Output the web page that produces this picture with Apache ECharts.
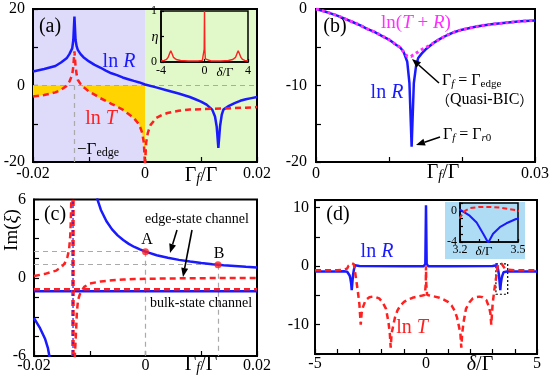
<!DOCTYPE html>
<html>
<head>
<meta charset="utf-8">
<script src="https://cdn.jsdelivr.net/npm/echarts@6/dist/echarts.min.js"></script>
<style>
html, body { margin: 0; padding: 0; background: #fff; }
#chart { width: 556px; height: 386px; }
</style>
</head>
<body>
<div id="chart"></div>
<script>
// ---- (a) ln R and ln T against Gamma_f/Gamma
var aRx = [-0.02,-0.018,-0.016,-0.015,-0.014,-0.0135,-0.013,-0.0128,-0.0126,-0.0124,-0.0122,-0.012,-0.0115,-0.011,-0.01,-0.009,-0.008,-0.007,-0.006,-0.005,-0.004,-0.003,-0.002,-0.001,0,0.002,0.004,0.006,0.008,0.009,0.01,0.011,0.012,0.0125,0.0128,0.0131,0.0134,0.0137,0.014,0.015,0.016,0.017,0.018,0.019,0.02];
var aRy = [3.65,4.3,5.1,6.0,7.1,8.2,9.7,11.9,18,11.9,10.2,9.3,8.2,7.4,6.3,5.4,4.7,3.9,3.2,2.7,2.1,1.65,1.2,0.8,0.26,-0.5,-1.3,-2.1,-3.0,-3.6,-4.2,-5.0,-6.3,-8.1,-10.7,-16.3,-10.7,-7.7,-6.3,-5.3,-4.6,-4.0,-3.6,-3.3,-3.0];
var aTx = [-0.02,-0.018,-0.016,-0.015,-0.014,-0.0135,-0.013,-0.0128,-0.0126,-0.0124,-0.0122,-0.012,-0.0115,-0.011,-0.01,-0.009,-0.008,-0.007,-0.006,-0.005,-0.004,-0.003,-0.002,-0.001,-0.0005,-0.0002,0,0.0002,0.0005,0.001,0.002,0.003,0.004,0.006,0.008,0.01,0.012,0.014,0.016,0.018,0.02];
var aTy = [-2.9,-2.5,-1.8,-1.1,-0.1,1.0,2.8,5.0,8.9,5.0,2.8,1.5,0.35,-0.4,-1.6,-2.4,-3.3,-4.0,-4.8,-5.5,-6.3,-7.4,-8.5,-10.3,-12.4,-15,-21,-15,-12.4,-10.3,-8.5,-7.7,-7.2,-6.6,-6.3,-6.2,-6.1,-6.0,-5.9,-5.8,-5.65];
var gammaEdge = 0.0126;
// inset of (a): eta against delta/Gamma
var etaX = [-4,-3.7,-3.5,-3.35,-3.2,-3.1,-3.0,-2.85,-2.6,-2.2,-1.5,-0.6,-0.2,-0.08,-0.03,0,0.03,0.08,0.2,0.6,1.5,2.2,2.6,2.85,3.0,3.1,3.2,3.35,3.5,3.7,4];
var etaY = [0.02,0.03,0.05,0.09,0.17,0.22,0.17,0.09,0.05,0.03,0.02,0.02,0.03,0.06,0.25,1.0,0.25,0.06,0.03,0.02,0.02,0.03,0.05,0.09,0.17,0.22,0.17,0.09,0.05,0.03,0.02];

// ---- (b) ln R and ln(T+R)
var bRx = [0,0.001,0.002,0.003,0.004,0.005,0.006,0.007,0.008,0.009,0.01,0.011,0.0115,0.012,0.0125,0.0128,0.0131,0.0134,0.0137,0.014,0.0145,0.015,0.016,0.017,0.018,0.019,0.02,0.022,0.024,0.026,0.028,0.03];
var bRy = [0,-0.26,-0.57,-0.9,-1.3,-1.7,-2.1,-2.6,-3.0,-3.5,-4.0,-4.7,-5.0,-5.6,-6.9,-9.7,-18,-9.7,-7.5,-6.4,-5.8,-5.3,-4.5,-3.9,-3.4,-3.0,-2.7,-2.3,-2.0,-1.8,-1.6,-1.5];
var bTRx = [0,0.001,0.002,0.003,0.004,0.005,0.006,0.007,0.008,0.009,0.01,0.011,0.0115,0.012,0.0125,0.013,0.0135,0.014,0.0145,0.015,0.016,0.017,0.018,0.019,0.02,0.022,0.024,0.026,0.028,0.03];
var bTRy = [0,-0.26,-0.57,-0.9,-1.3,-1.7,-2.1,-2.6,-3.0,-3.5,-4.0,-4.7,-5.0,-5.6,-6.2,-6.2,-5.9,-5.6,-5.3,-5.05,-4.5,-3.9,-3.4,-3.0,-2.7,-2.3,-2.0,-1.8,-1.6,-1.5];

// ---- (c) Im(xi)
var cEdgeX = [-0.0087,-0.008,-0.007,-0.006,-0.005,-0.004,-0.003,-0.002,-0.001,0,0.002,0.004,0.006,0.008,0.01,0.012,0.014,0.016,0.018,0.02];
var cEdgeY = [6.1,5.2,4.33,3.71,3.25,2.89,2.6,2.36,2.17,2.0,1.73,1.53,1.37,1.24,1.13,1.04,0.96,0.9,0.84,0.79];
var cEdgeLx = [-0.02,-0.019,-0.018,-0.0175,-0.0172];
var cEdgeLy = [-3.1,-3.8,-4.7,-5.4,-6.1];
var cRedLx = [-0.02,-0.018,-0.016,-0.015,-0.0145,-0.014,-0.0137,-0.0135,-0.0134,-0.0133];
var cRedLy = [0.13,0.3,0.55,0.85,1.1,1.6,2.2,3.2,4.3,6.2];
var cRedRx = [-0.0127,-0.0125,-0.0123,-0.0121,-0.0118,-0.0115,-0.011,-0.01,-0.008,-0.006,-0.004,-0.002,0,0.005,0.01,0.02];
var cRedRy = [-6.2,-4.5,-2.6,-1.7,-1.3,-1.05,-0.7,-0.45,-0.28,-0.2,-0.14,-0.1,-0.08,-0.05,-0.03,-0.02];
var cBulkX = [-0.02,0.02];
var cBulkBlue = [-1.04,-1.04];
var cBulkRed = [-0.88,-0.88];
var cPoleX = -0.013;
var cPtX = [0, 0.013];
var cPtY = [2.0, 1.0];

// ---- (d) ln R, ln T against delta/Gamma
var dRx = [-5,-4,-3.7,-3.55,-3.49,-3.44,-3.406,-3.371,-3.346,-3.32,-3.286,-3.25,-3.2,-3.0,-1,-0.1,-0.03,0,0.03,0.1,1,3.0,3.2,3.25,3.286,3.32,3.346,3.371,3.406,3.44,3.49,3.55,3.7,4,5];
var dRy = [-0.9,-0.9,-0.88,-0.95,-1.05,-1.6,-2.1,-2.95,-4.1,-2.95,-1.5,-0.63,0.15,0.03,0,0,0.4,10.4,0.4,0,0,0.03,0.15,-0.63,-1.5,-2.95,-4.1,-2.95,-2.1,-1.6,-1.05,-0.95,-0.88,-0.9,-0.9];
var dTx = [-5,-4,-3.7,-3.55,-3.49,-3.457,-3.41,-3.35,-3.3,-3.25,-3.226,-3.2,-3.15,-3.08,-3.0,-2.94,-2.9,-2.84,-2.72,-2.55,-2.41,-2.25,-2.11,-1.95,-1.8,-1.69,-1.63,-1.59,-1.55,-1.48,-1.4,-1.29,-1.15,-0.99,-0.8,-0.61,-0.4,-0.16,-0.05,-0.01,0,
           0.01,0.05,0.16,0.4,0.61,0.8,0.99,1.15,1.29,1.4,1.48,1.55,1.59,1.63,1.69,1.8,1.95,2.11,2.25,2.41,2.55,2.72,2.84,2.9,2.94,3.0,3.08,3.15,3.2,3.226,3.25,3.3,3.35,3.41,3.457,3.49,3.55,3.7,4,5];
var dTy = [-0.7,-0.7,-0.6,-0.4,0.08,0.2,0.4,0.5,0.5,0.34,0,-0.85,-2.2,-4.0,-6.5,-10.0,-8.0,-7.0,-5.8,-5.3,-5.2,-5.3,-5.5,-6.2,-7.3,-9.6,-11.5,-13.9,-11.5,-10.2,-8.8,-7.6,-6.7,-6.1,-5.7,-5.4,-5.2,-5.0,-4.9,-3,0,
           -3,-4.9,-5.0,-5.2,-5.4,-5.7,-6.1,-6.7,-7.6,-8.8,-10.2,-11.5,-13.9,-11.5,-9.6,-7.3,-6.2,-5.5,-5.3,-5.2,-5.3,-5.8,-7.0,-8.0,-10.0,-6.5,-4.0,-2.2,-0.85,0,0.34,0.5,0.5,0.4,0.2,0.08,-0.4,-0.6,-0.7,-0.7];
var dBoxX = [3.15, 3.68];
var dBoxY = [0.4, -4.8];

// tick labels that are printed
var aXLabels = [-0.02, 0, 0.02], aYLabels = [-20, 0, 20];
var etaXLabels = [-4, 0, 4], etaYLabels = [0, 1];
var bXLabels = [0, 0.03], bYLabels = [-20, -10, 0];
var cXLabels = [-0.02, 0, 0.02], cYLabels = [-6, 0, 6];
var dXLabels = [-5, 0, 5], dYLabels = [-10, 0, 10];
var dInXLabels = [3.2, 3.5], dInYLabels = [-4, 0];

var FONT = 'Liberation Serif';
var BLUE = '#1a1aff', RED = '#ff2020', PINK = '#ff30ff';
var PURPLE = '#dedaf9', GREEN = '#e1f8c8', GOLD = '#ffd400', SKY = '#aedcf4';

function zip(xs, ys) {
  return xs.map(function (x, i) { return [x, ys[i]]; });
}

function fmt(shown) {
  return function (v) {
    for (var k = 0; k < shown.length; k++) {
      if (Math.abs(v - shown[k]) < 1e-7) return String(shown[k]);
    }
    return '';
  };
}

function xAx(gi, min, max, interval, shown, fs, margin, lw) {
  return {
    type: 'value', gridIndex: gi, min: min, max: max, interval: interval, position: 'bottom',
    axisLine: { show: true, onZero: false, lineStyle: { color: '#000', width: lw } },
    axisTick: { show: true, inside: true, length: lw > 1.6 ? 5 : 3, lineStyle: { color: '#000', width: 1.2 } },
    splitLine: { show: false },
    axisLabel: { margin: margin, fontFamily: FONT, fontSize: fs, color: '#000', formatter: fmt(shown), showMinLabel: true, showMaxLabel: true }
  };
}

function yAx(gi, min, max, interval, shown, fs, margin, lw) {
  var a = xAx(gi, min, max, interval, shown, fs, margin, lw);
  a.position = 'left';
  return a;
}

function line(gi, data, color, width, type, z) {
  return {
    type: 'line', xAxisIndex: gi, yAxisIndex: gi, data: data, symbol: 'none', z: z || 5,
    lineStyle: { color: color, width: width, type: type || 'solid' }, clip: true, silent: true
  };
}

function gray(pairs) {
  return pairs.map(function (p) { return [{ coord: p[0] }, { coord: p[1] }]; });
}

// text made of pieces: {n|..} normal, {i|..} italic, {s|..} subscript, {si|..} italic subscript, {c|..} CJK
var measureCtx = document.createElement('canvas').getContext('2d');
function pieceFont(kind, size) {
  var small = Math.round(size * 0.68);
  if (kind === 'n') return size + 'px "' + FONT + '"';
  if (kind === 'i') return 'italic ' + size + 'px "' + FONT + '"';
  if (kind === 's') return small + 'px "' + FONT + '"';
  if (kind === 'si') return 'italic ' + small + 'px "' + FONT + '"';
  return (size - 2) + 'px "Noto Sans CJK SC"';
}

function txt(x, y, text, size, color, opts) {
  opts = opts || {};
  var parts = [], re = /\{(\w+)\|([^}]*)\}/g, m;
  while ((m = re.exec(text))) parts.push({ kind: m[1], t: m[2] });
  if (opts.rot) {
    return [{
      type: 'text', x: x, y: y, z: 100, rotation: opts.rot,
      style: {
        text: text, fill: color, align: 'center', verticalAlign: 'middle',
        rich: {
          n: { fontFamily: FONT, fontSize: size, fill: color },
          i: { fontFamily: FONT, fontSize: size, fontStyle: 'italic', fill: color }
        }
      }
    }];
  }
  var total = 0;
  parts.forEach(function (p) {
    p.font = pieceFont(p.kind, size);
    measureCtx.font = p.font;
    p.w = measureCtx.measureText(p.t).width;
    total += p.w;
  });
  var cx = opts.align === 'left' ? x : x - total / 2;
  return parts.map(function (p) {
    var sub = p.kind === 's' || p.kind === 'si';
    var el = {
      type: 'text', x: cx, y: y + (sub ? size * 0.17 : 0), z: 100,
      style: { text: p.t, font: p.font, fill: color, align: 'left', verticalAlign: 'middle' }
    };
    cx += p.w;
    return el;
  });
}

function arrow(x1, y1, x2, y2) {
  var a = Math.atan2(y2 - y1, x2 - x1), L = 9, W = 3.5;
  var bx = x2 - L * Math.cos(a), by = y2 - L * Math.sin(a);
  var px = -Math.sin(a) * W, py = Math.cos(a) * W;
  return [
    { type: 'line', z: 100, shape: { x1: x1, y1: y1, x2: bx, y2: by }, style: { stroke: '#000', lineWidth: 1.6 } },
    { type: 'polygon', z: 100, shape: { points: [[x2, y2], [bx + px, by + py], [bx - px, by - py]] }, style: { fill: '#000' } }
  ];
}

var aFill = zip(aTx, aTy).filter(function (p) { return p[0] <= 0; })
  .map(function (p) { return [p[0], Math.min(p[1], 0)]; });

var gridBase = { show: true, borderColor: '#000', borderWidth: 2 };
function grid(l, t, w, h, extra) {
  return Object.assign({ left: l, top: t, width: w, height: h }, gridBase, extra || {});
}

var labels = [].concat(
  // (a)
  txt(50, 27, '{n|(a)}', 20, '#000'),
  txt(119, 62, '{n|ln }{i|R}', 20, BLUE),
  txt(101, 119, '{n|ln }{i|T}', 20, RED),
  txt(77, 150, '{n|−Γ}{s|edge}', 17, '#000', { align: 'left' }),
  txt(201, 176, '{n|Γ}{si|f}{n|/Γ}', 20, '#000'),
  txt(155, 37, '{i|η}', 14, '#000'),
  txt(225, 73, '{i|δ}{n|/Γ}', 13, '#000'),
  // (b)
  txt(335, 27, '{n|(b)}', 20, '#000'),
  txt(416, 23, '{n|ln(}{i|T}{n| + }{i|R}{n|)}', 19, PINK),
  txt(387, 93, '{n|ln }{i|R}', 20, BLUE),
  txt(442, 81, '{n|Γ}{si|f}{n| = Γ}{s|edge}', 16, '#000', { align: 'left' }),
  txt(436, 100, '{c|（}{n|Quasi-BIC}{c|）}', 16, '#000', { align: 'left' }),
  txt(443, 135, '{n|Γ}{si|f}{n| = Γ}{si|r}{s|0}', 16, '#000', { align: 'left' }),
  txt(443, 173, '{n|Γ}{si|f}{n|/Γ}', 20, '#000'),
  // (c)
  txt(55, 215, '{n|(c)}', 20, '#000'),
  txt(12, 230, '{n|Im(}{i|ξ}{n|)}', 19, '#000', { rot: Math.PI / 2 }),
  txt(147, 240, '{n|A}', 16, '#000'),
  txt(219, 254, '{n|B}', 16, '#000'),
  txt(197, 219, '{n|edge-state channel}', 14, '#000'),
  txt(201, 303, '{n|bulk-state channel}', 14, '#000'),
  txt(201, 365, '{n|Γ}{si|f}{n|/Γ}', 20, '#000'),
  // (d)
  txt(338, 215, '{n|(d)}', 20, '#000'),
  txt(377, 252, '{n|ln }{i|R}', 20, BLUE),
  txt(412, 328, '{n|ln }{i|T}', 20, RED),
  txt(480, 365, '{i|δ}{n|/Γ}', 20, '#000'),
  txt(484, 252, '{i|δ}{n|/Γ}', 13, '#000'),
  arrow(439, 83, 412, 59),
  arrow(440, 137, 416, 145),
  arrow(177, 230, 170, 253),
  arrow(192, 230, 183, 277)
);

var chart = echarts.init(document.getElementById('chart'));
chart.setOption({
  animation: false,
  backgroundColor: '#fff',
  grid: [
    grid(33, 9, 224, 153, {
      backgroundColor: { type: 'linear', x: 0, y: 0, x2: 1, y2: 0,
        colorStops: [{ offset: 0, color: PURPLE }, { offset: 0.5, color: PURPLE }, { offset: 0.5, color: GREEN }, { offset: 1, color: GREEN }] }
    }),
    grid(161, 11, 87, 51, { backgroundColor: GREEN, borderWidth: 1.5 }),
    grid(316, 9, 219, 153),
    grid(34, 199.5, 223, 156.5),
    grid(315, 200, 222, 154),
    grid(460, 203, 58, 39, { borderWidth: 1.5 })
  ],
  xAxis: [
    xAx(0, -0.02, 0.02, 0.01, aXLabels, 16, 4, 2),
    xAx(1, -4, 4, 4, etaXLabels, 12, 3, 1.5),
    xAx(2, 0, 0.03, 0.01, bXLabels, 16, 4, 2),
    xAx(3, -0.02, 0.02, 0.01, cXLabels, 16, 2, 2),
    xAx(4, -5, 5, 1, dXLabels, 16, 2, 2),
    xAx(5, 3.2, 3.5, 0.1, dInXLabels, 12, 2, 1.5)
  ],
  yAxis: [
    yAx(0, -20, 20, 10, aYLabels, 16, 8, 2),
    yAx(1, 0, 1, 0.5, etaYLabels, 12, 4, 1.5),
    yAx(2, -20, 0, 5, bYLabels, 16, 9, 2),
    yAx(3, -6, 6, 1.5, cYLabels, 16, 8, 2),
    yAx(4, -15, 11.3, 5, dYLabels, 16, 6, 2),
    yAx(5, -4, 1, 1, dInYLabels, 12, 3, 1.5)
  ],
  series: [
    // (a)
    {
      type: 'line', xAxisIndex: 0, yAxisIndex: 0, data: aFill, symbol: 'none', z: 2, silent: true,
      lineStyle: { width: 0 }, areaStyle: { color: GOLD, opacity: 1 }
    },
    {
      type: 'line', xAxisIndex: 0, yAxisIndex: 0, data: [], symbol: 'none', z: 3, silent: true,
      markLine: {
        silent: true, symbol: 'none', label: { show: false },
        lineStyle: { color: '#aaa', width: 1.2, type: [5, 4] },
        data: gray([[[-0.02, 0], [0.02, 0]], [[-gammaEdge, -20], [-gammaEdge, 0]]])
      }
    },
    line(0, zip(aRx, aRy), BLUE, 2.5, 'solid', 5),
    line(0, zip(aTx, aTy), RED, 2.5, [6, 4], 6),
    line(1, zip(etaX, etaY), RED, 1.4, 'solid', 10),
    // (b)
    line(2, zip(bRx, bRy), BLUE, 2.5, 'solid', 5),
    line(2, zip(bTRx, bTRy), PINK, 3, [3, 3], 6),
    // (c)
    {
      type: 'line', xAxisIndex: 3, yAxisIndex: 3, data: [], symbol: 'none', z: 3, silent: true,
      markLine: {
        silent: true, symbol: 'none', label: { show: false },
        lineStyle: { color: '#aaa', width: 1.2, type: [5, 4] },
        data: gray([
          [[-0.02, cPtY[0]], [cPtX[0], cPtY[0]]], [[cPtX[0], cPtY[0]], [cPtX[0], -6]],
          [[-0.02, cPtY[1]], [cPtX[1], cPtY[1]]], [[cPtX[1], cPtY[1]], [cPtX[1], -6]]
        ])
      }
    },
    line(3, zip(cEdgeX, cEdgeY), BLUE, 2.5, 'solid', 5),
    line(3, zip(cEdgeLx, cEdgeLy), BLUE, 2.5, 'solid', 5),
    line(3, zip(cBulkX, cBulkBlue), BLUE, 2.5, 'solid', 5),
    line(3, zip(cRedLx, cRedLy), RED, 2.5, [6, 4], 6),
    line(3, zip(cRedRx, cRedRy), RED, 2.5, [6, 4], 6),
    line(3, zip(cBulkX, cBulkRed), RED, 2.5, [6, 4], 6),
    line(3, [[cPoleX, -6], [cPoleX, 6]], RED, 3.5, [6, 4], 6),
    line(3, [[cPoleX, -6], [cPoleX, 6]], BLUE, 1.2, [2, 2], 7),
    {
      type: 'scatter', xAxisIndex: 3, yAxisIndex: 3, data: zip(cPtX, cPtY), symbolSize: 7, z: 8,
      itemStyle: { color: RED }, silent: true
    },
    // (d)
    line(4, zip(dRx, dRy), BLUE, 2.5, 'solid', 5),
    line(4, zip(dTx, dTy), RED, 2.5, [6, 4], 6),
    {
      type: 'line', xAxisIndex: 4, yAxisIndex: 4, data: [], symbol: 'none', z: 7, silent: true,
      markArea: {
        silent: true, label: { show: false },
        itemStyle: { color: 'rgba(0,0,0,0)', borderColor: '#000', borderWidth: 1.2, borderType: [2, 2] },
        data: [[{ xAxis: dBoxX[0], yAxis: dBoxY[0] }, { xAxis: dBoxX[1], yAxis: dBoxY[1] }]]
      }
    },
    line(5, zip(dRx, dRy), BLUE, 2, 'solid', 10),
    line(5, zip(dTx, dTy), RED, 2, [5, 3], 11)
  ],
  graphic: [
    { type: 'rect', z: -1, shape: { x: 445, y: 202, width: 80, height: 57 }, style: { fill: SKY } }
  ].concat(labels)
});
</script>
</body>
</html>
